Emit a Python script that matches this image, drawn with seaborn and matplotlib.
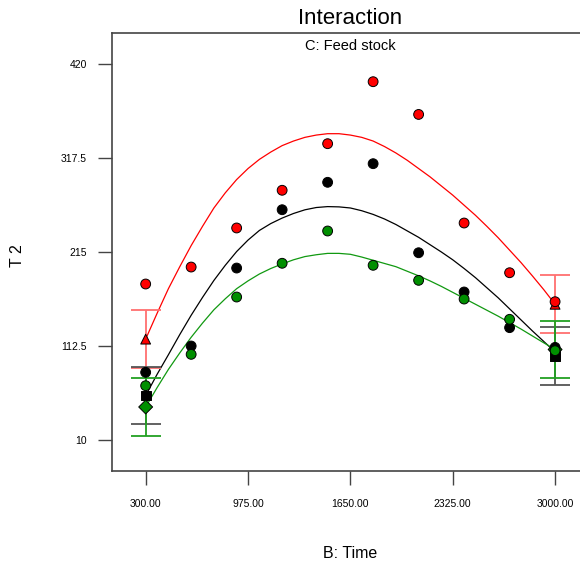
import matplotlib
matplotlib.use("Agg")
import matplotlib.pyplot as plt
import numpy as np
import pandas as pd
import seaborn as sns

# ---------------- data ----------------
levels = ["red", "black", "green"]

obs_time = [300, 600, 900, 1200, 1500, 1800, 2100, 2400, 2700, 3000]
red_obs = [180.1, 198.6, 241.2, 282.3, 333.1, 400.7, 365.0, 246.6, 192.4, 160.8]
black_obs = [83.8, 112.5, 197.5, 261.1, 291.0, 311.3, 214.2, 171.4, 132.5, 111.0]
green_obs = [69.2, 103.4, 165.9, 202.7, 237.9, 200.5, 184.1, 163.7, 141.6, 107.4]

curve_time = [300, 375, 450, 525, 600, 675, 750, 825, 900, 975, 1050, 1125, 1200,
              1275, 1350, 1425, 1500, 1575, 1650, 1725, 1800, 1875, 1950, 2025,
              2100, 2175, 2250, 2325, 2400, 2475, 2550, 2625, 2700, 2775, 2850,
              2925, 3000]
red_fit = [120, 148, 175, 199, 222, 243, 263, 279.5, 294, 306, 316, 324, 331,
           336, 340, 342.5, 344, 344, 342.5, 340, 336, 330, 323, 315, 306,
           297, 287, 277, 266, 255, 243, 230.5, 217, 203.5, 189, 174, 158]
black_fit = [58.5, 81.5, 103, 125, 146, 165.5, 184, 200.5, 215.5, 228, 238.5,
             246, 252, 257, 261, 263.5, 264.5, 264.2, 263, 260, 256, 251, 245,
             238, 231, 223, 215, 206.5, 197, 187, 176, 165, 153, 141, 129,
             117.5, 106]
green_fit = [46, 67, 87, 105, 122, 137.5, 152, 164, 175, 183.5, 191, 197, 202,
             206.5, 210, 212, 213.5, 213.5, 212.5, 209.5, 206, 202.5, 199, 194,
             189, 183.5, 177.5, 171, 164.5, 158, 151.5, 145, 138, 131, 123.5,
             116, 108.7]

end_time = [300, 3000]
red_end = [120, 158]
black_end = [58.5, 102]
green_end = [46, 108.7]
lsd_half = 31.5

xticks = [300, 975, 1650, 2325, 3000]
xtick_labels = ["300.00", "975.00", "1650.00", "2325.00", "3000.00"]
yticks = [10, 112.5, 215, 317.5, 420]
ytick_labels = ["10", "112.5", "215", "317.5", "420"]

# ---------------- tables ----------------
obs_df = pd.DataFrame({
    "time": obs_time * 3,
    "value": red_obs + black_obs + green_obs,
    "level": ["red"] * len(obs_time) + ["black"] * len(obs_time) + ["green"] * len(obs_time),
})
fit_df = pd.DataFrame({
    "time": curve_time * 3,
    "value": red_fit + black_fit + green_fit,
    "level": ["red"] * len(curve_time) + ["black"] * len(curve_time) + ["green"] * len(curve_time),
})
end_df = pd.DataFrame({
    "time": end_time * 3,
    "value": red_end + black_end + green_end,
    "level": ["red"] * 2 + ["black"] * 2 + ["green"] * 2,
})

# ---------------- style ----------------
sns.set_theme(style="white")
plt.rcParams["font.family"] = ["Liberation Sans", "DejaVu Sans"]
plt.rcParams["text.color"] = "black"

line_pal = {"red": "#ff0000", "black": "#000000", "green": "#119911"}
fill_pal = {"red": "#ff0000", "black": "#000000", "green": "#008f00"}
bar_pal = {"red": "#ff7070", "black": "#555555", "green": "#22a022"}
end_markers = {"red": "^", "black": "s", "green": "D"}

fig = plt.figure(figsize=(5.80, 5.67), dpi=100)
ax = fig.add_axes([112 / 580, 1 - 471 / 567, 476 / 580, (471 - 33) / 567])

# fitted curves
sns.lineplot(data=fit_df, x="time", y="value", hue="level", palette=line_pal,
             hue_order=levels, estimator=None, sort=True, linewidth=0.9,
             legend=False, ax=ax, zorder=2)

# LSD bars at the end points
for lvl, vals in zip(levels, [red_end, black_end, green_end]):
    ax.errorbar(end_time, vals, yerr=lsd_half, fmt="none", ecolor=bar_pal[lvl],
                elinewidth=1.3, capsize=11, capthick=1.3, zorder=3)

# predicted end points
sns.scatterplot(data=end_df, x="time", y="value", hue="level", style="level",
                palette=fill_pal, markers=end_markers, hue_order=levels,
                style_order=levels, s=50, edgecolor="black", linewidth=0.7,
                legend=False, ax=ax, zorder=4)

# design points
sns.scatterplot(data=obs_df, x="time", y="value", hue="level", palette=fill_pal,
                hue_order=levels, s=50, edgecolor="black", linewidth=0.7,
                legend=False, ax=ax, zorder=5)

ax.set_xlim(78, 3217)
ax.set_ylim(-23.8, 453.8)
ax.set_xticks(xticks)
ax.set_xticklabels(xtick_labels)
ax.set_yticks(yticks)
ax.set_yticklabels(ytick_labels)
ax.tick_params(axis="both", which="major", bottom=True, left=True, top=False, right=False,
               direction="out", length=10, width=1.0, color="#444444",
               labelsize=7.5, labelcolor="#000000")
ax.tick_params(axis="y", pad=8)
ax.tick_params(axis="x", pad=10)
ax.set_xlabel("")
ax.set_ylabel("")

for side in ["left", "bottom", "top"]:
    ax.spines[side].set_visible(True)
    ax.spines[side].set_color("#444444")
    ax.spines[side].set_linewidth(1.2)
ax.spines["right"].set_visible(False)

fig.text(350 / 580, 1 - 553 / 567, "B: Time", ha="center", va="center",
         fontsize=11.5, color="black")
fig.text(18 / 580, 1 - 256 / 567, "T 2", ha="center", va="center", fontsize=11.5,
         rotation=90, color="black")
fig.text(350 / 580, 1 - 19 / 567, "Interaction", ha="center", va="center",
         fontsize=16, color="black")
fig.text(350 / 580, 1 - 46 / 567, "C: Feed stock", ha="center", va="center",
         fontsize=10.5, color="black")

fig.savefig("out.png", dpi=100)
